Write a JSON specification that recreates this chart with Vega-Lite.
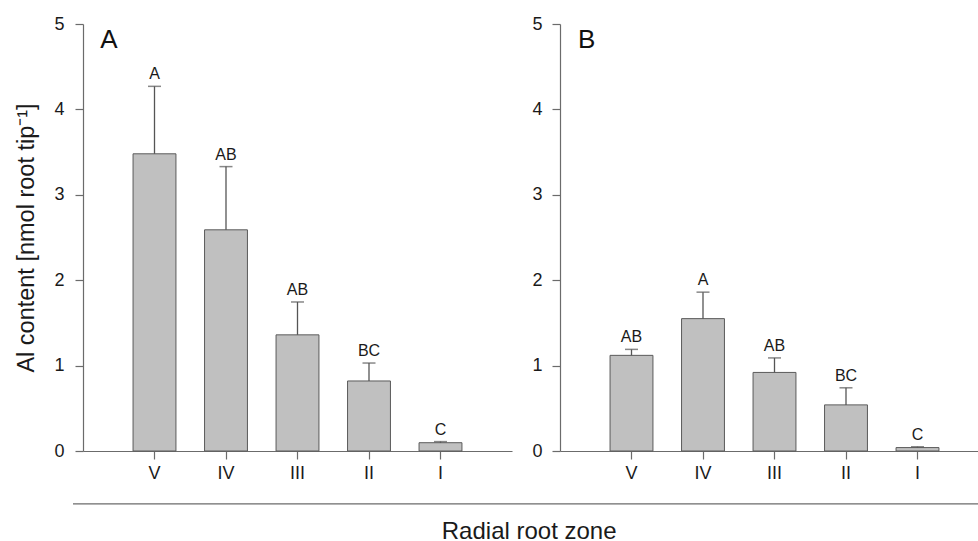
{
  "$schema": "https://vega.github.io/schema/vega-lite/v6.json",
  "padding": {"left": 14, "top": 15, "right": 0, "bottom": 0},
  "background": "white",
  "config": {
    "font": "Liberation Sans",
    "view": {"stroke": null},
    "axis": {
      "grid": false,
      "domainColor": "#6b6b6b",
      "domainWidth": 1.2,
      "tickColor": "#6b6b6b",
      "tickWidth": 1.2,
      "tickSize": 8,
      "labelFont": "Liberation Sans",
      "labelFontSize": 18,
      "labelColor": "#1a1a1a",
      "titleFont": "Liberation Sans",
      "titleFontWeight": "normal",
      "titleColor": "#1a1a1a"
    }
  },
  "bounds": "flush",
  "spacing": 48,
  "hconcat": [
    {
      "width": 429,
      "height": 427,
      "layer": [
        {
          "data": {"values": [
            {"zone": "V", "value": 3.48, "upper": 4.27, "letter": "A"},
            {"zone": "IV", "value": 2.59, "upper": 3.33, "letter": "AB"},
            {"zone": "III", "value": 1.36, "upper": 1.745, "letter": "AB"},
            {"zone": "II", "value": 0.82, "upper": 1.03, "letter": "BC"},
            {"zone": "I", "value": 0.097, "upper": 0.11, "letter": "C"}
          ]},
          "encoding": {
            "x": {"field": "zone", "type": "nominal", "sort": ["V", "IV", "III", "II", "I"],
                  "scale": {"paddingInner": 0.4, "paddingOuter": 0.7},
                  "axis": {"title": null, "labelAngle": 0, "labelPadding": 5}}
          },
          "layer": [
            {
              "mark": {"type": "bar", "fill": "#c0c0c0", "stroke": "#5a5a5a", "strokeWidth": 1},
              "encoding": {
                "y": {"field": "value", "type": "quantitative",
                      "scale": {"domain": [0, 5], "nice": false},
                      "axis": {"values": [0, 1, 2, 3, 4, 5], "format": "d", "title": "Al content [nmol root tip⁻¹]", "titleFontSize": 23.5, "titlePadding": 15, "labelPadding": 11}}
              }
            },
            {
              "mark": {"type": "rule", "stroke": "#555555", "strokeWidth": 1.3},
              "encoding": {
                "y": {"field": "value", "type": "quantitative", "scale": {"domain": [0, 5], "nice": false}},
                "y2": {"field": "upper"}
              }
            },
            {
              "mark": {"type": "tick", "color": "#555555", "thickness": 1.5, "size": 13},
              "encoding": {
                "y": {"field": "upper", "type": "quantitative", "scale": {"domain": [0, 5], "nice": false}}
              }
            },
            {
              "mark": {"type": "text", "fontSize": 16, "dy": -7, "baseline": "alphabetic", "color": "#1a1a1a"},
              "encoding": {
                "y": {"field": "upper", "type": "quantitative", "scale": {"domain": [0, 5], "nice": false}},
                "text": {"field": "letter"}
              }
            }
          ]
        },
        {
          "data": {"values": [{}]},
          "mark": {"type": "rule", "stroke": "#6b6b6b", "strokeWidth": 1.2},
          "encoding": {
            "x": {"datum": -0.0233, "type": "quantitative", "scale": {"domain": [0, 1], "nice": false, "zero": false}, "axis": null},
            "x2": {"datum": 2.12},
            "y": {"datum": -0.62, "type": "quantitative", "scale": {"domain": [0, 5], "nice": false}}
          }
        },
        {
          "data": {"values": [{}]},
          "mark": {"type": "text", "fontSize": 24, "baseline": "alphabetic", "align": "center", "color": "#1a1a1a"},
          "encoding": {
            "x": {"datum": 1.04, "type": "quantitative", "scale": {"domain": [0, 1], "nice": false, "zero": false}, "axis": null},
            "y": {"datum": -1.025, "type": "quantitative", "scale": {"domain": [0, 5], "nice": false}},
            "text": {"value": "Radial root zone"}
          }
        },
        {
          "data": {"values": [{}]},
          "mark": {"type": "text", "fontSize": 26, "baseline": "alphabetic", "align": "left", "color": "#111111"},
          "encoding": {
            "x": {"datum": 0.04, "type": "quantitative", "scale": {"domain": [0, 1], "nice": false, "zero": false}, "axis": null},
            "y": {"datum": 4.72, "type": "quantitative", "scale": {"domain": [0, 5], "nice": false}},
            "text": {"value": "A"}
          }
        }
      ],
      "resolve": {"scale": {"x": "independent"}, "axis": {"x": "independent"}}
    },
    {
      "width": 429,
      "height": 427,
      "layer": [
        {
          "data": {"values": [
            {"zone": "V", "value": 1.12, "upper": 1.19, "letter": "AB"},
            {"zone": "IV", "value": 1.55, "upper": 1.86, "letter": "A"},
            {"zone": "III", "value": 0.92, "upper": 1.09, "letter": "AB"},
            {"zone": "II", "value": 0.54, "upper": 0.74, "letter": "BC"},
            {"zone": "I", "value": 0.04, "upper": 0.05, "letter": "C"}
          ]},
          "encoding": {
            "x": {"field": "zone", "type": "nominal", "sort": ["V", "IV", "III", "II", "I"],
                  "scale": {"paddingInner": 0.4, "paddingOuter": 0.7},
                  "axis": {"title": null, "labelAngle": 0, "labelPadding": 5}}
          },
          "layer": [
            {
              "mark": {"type": "bar", "fill": "#c0c0c0", "stroke": "#5a5a5a", "strokeWidth": 1},
              "encoding": {
                "y": {"field": "value", "type": "quantitative",
                      "scale": {"domain": [0, 5], "nice": false},
                      "axis": {"values": [0, 1, 2, 3, 4, 5], "format": "d", "title": null, "labelPadding": 10}}
              }
            },
            {
              "mark": {"type": "rule", "stroke": "#555555", "strokeWidth": 1.3},
              "encoding": {
                "y": {"field": "value", "type": "quantitative", "scale": {"domain": [0, 5], "nice": false}},
                "y2": {"field": "upper"}
              }
            },
            {
              "mark": {"type": "tick", "color": "#555555", "thickness": 1.5, "size": 13},
              "encoding": {
                "y": {"field": "upper", "type": "quantitative", "scale": {"domain": [0, 5], "nice": false}}
              }
            },
            {
              "mark": {"type": "text", "fontSize": 16, "dy": -7, "baseline": "alphabetic", "color": "#1a1a1a"},
              "encoding": {
                "y": {"field": "upper", "type": "quantitative", "scale": {"domain": [0, 5], "nice": false}},
                "text": {"field": "letter"}
              }
            }
          ]
        },
        {
          "data": {"values": [{}]},
          "mark": {"type": "text", "fontSize": 26, "baseline": "alphabetic", "align": "left", "color": "#111111"},
          "encoding": {
            "x": {"datum": 0.042, "type": "quantitative", "scale": {"domain": [0, 1], "nice": false, "zero": false}, "axis": null},
            "y": {"datum": 4.72, "type": "quantitative", "scale": {"domain": [0, 5], "nice": false}},
            "text": {"value": "B"}
          }
        }
      ],
      "resolve": {"scale": {"x": "independent"}, "axis": {"x": "independent"}}
    }
  ]
}
